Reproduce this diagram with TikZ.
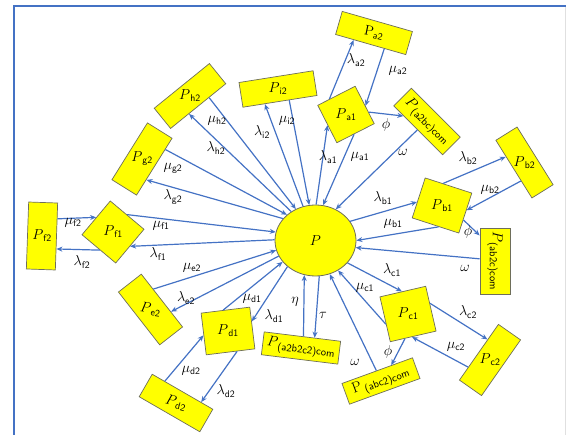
\documentclass[tikz,border=0pt]{standalone}
\usepackage{fontspec}
\usetikzlibrary{shapes.geometric,arrows.meta,calc}
\definecolor{ln}{RGB}{68,114,196}
\definecolor{yl}{RGB}{255,255,0}
\definecolor{bd}{RGB}{110,110,90}
\newcommand\Pb[1]{$P$\textsubscript{\sffamily #1}}
\newcommand\Gr[2]{$#1$\textsubscript{\sffamily #2}}
\tikzset{
  box/.style={draw=bd, fill=yl, line width=0.7pt, inner sep=0pt, rectangle},
  txt/.style={inner sep=0pt, font=\fontsize{14}{16}\selectfont},
  ctxt/.style={font=\fontsize{15}{17}\selectfont},
  lbl/.style={inner sep=0pt, font=\fontsize{14}{16}\selectfont},
  con/.style={draw=ln, line width=1.2pt, -{Stealth[length=6pt,width=5pt]}},
}
\begin{document}
\begin{tikzpicture}[x=1pt,y=-1pt]
\useasboundingbox (0,0) rectangle (566,435);
\begin{scope}
  \clip (0,0) rectangle (566,435);
  \draw[ln, line width=2pt] (14,6) rectangle (580,460);
  \draw[black!12, line width=0.6pt] (565,7) -- (565,435);
\end{scope}

% centre
\node[draw=bd, fill=yl, ellipse, minimum width=81pt, minimum height=71pt, inner sep=0pt, line width=0.8pt, font=\fontsize{14}{16}\selectfont] (P) at (315.5,240.5) {$P$};

% boxes
\node[box, minimum width=73pt, minimum height=24pt, rotate=-16] (a2) at (374,33) {};
\node[txt, rotate=-12] (ta2) at (a2) {{\rmfamily P}\textsubscript{\sffamily a2}};
\node[box, minimum width=42pt, minimum height=42pt, rotate=27] (a1) at (346,114.5) {};
\node[txt] (ta1) at (a1) {\Pb{a1}};
\node[box, ctxt, minimum width=69pt, minimum height=25pt, rotate=-45] (a2bc) at (427,121.5) {\Pb{(a2bc)com}};
\node[box, minimum width=49pt, minimum height=42pt, rotate=-18] (b1) at (442,205.5) {};
\node[txt] (tb1) at (b1) {\Pb{b1}};
\node[box, minimum width=68pt, minimum height=25pt, rotate=-58] (b2) at (524.5,162.5) {};
\node[txt] (tb2) at (b2) {\Pb{b2}};
\node[box, ctxt, minimum width=66pt, minimum height=30pt, rotate=-90] (ab2c) at (495,261) {\Pb{(ab2c)com}};
\node[box, minimum width=47pt, minimum height=46pt, rotate=13] (c1) at (408,314) {};
\node[txt] (tc1) at (c1) {\Pb{c1}};
\node[box, minimum width=68pt, minimum height=27pt, rotate=55] (c2) at (490,360) {};
\node[txt] (tc2) at (c2) {\Pb{c2}};
\node[box, ctxt, minimum width=75pt, minimum height=22pt, rotate=20] (abc2) at (381,381) {{\rmfamily P}\,\textsubscript{\sffamily (abc2)com}};
\node[box, ctxt, minimum width=77pt, minimum height=23pt, rotate=-7] (a2b2c2) at (301,348) {\Pb{(a2b2c2)com}};
\node[box, minimum width=49pt, minimum height=42pt, rotate=7] (d1) at (228,331) {};
\node[txt] (td1) at (d1) {\Pb{d1}};
\node[box, minimum width=70pt, minimum height=26pt, rotate=-30] (d2) at (176,403) {};
\node[txt, rotate=-15] (td2) at (d2) {\Pb{d2}};
\node[box, minimum width=67pt, minimum height=29pt, rotate=-52] (e2) at (150.5,309.5) {};
\node[txt, rotate=-8] (te2) at (e2) {\Pb{e2}};
\node[box, minimum width=44pt, minimum height=44pt, rotate=-40] (f1) at (113,232) {};
\node[txt] (tf1) at (f1) {\Pb{f1}};
\node[box, minimum width=29pt, minimum height=67pt, rotate=-2] (f2) at (42,236) {};
\node[txt] (tf2) at (f2) {\Pb{f2}};
\node[box, minimum width=67pt, minimum height=29pt, rotate=58] (g2) at (142,159) {};
\node[txt] (tg2) at (g2) {\Pb{g2}};
\node[box, minimum width=71pt, minimum height=26pt, rotate=39] (h2) at (190,96) {};
\node[txt] (th2) at (h2) {\Pb{h2}};
\node[box, minimum width=75pt, minimum height=25pt, rotate=9] (i2) at (278,89) {};
\node[txt] (ti2) at (i2) {\Pb{i2}};

% connectors
\draw[con] (a1.110.5) -- (a2.215);
\draw[con] (a2.-41) -- (a1.-3);
\draw[con] (a1.-21.5) -- (a2bc.212);
\draw[con] (a2bc.266) -- (P.57);
\draw[con] (P.89) -- (a1.183.4);
\draw[con] (a1.265) -- (P.78);
\draw[con] (P.110) -- (i2.-140.4);
\draw[con] (i2.-54) -- (P.100);
\draw[con] (P.130) -- (h2.-132);
\draw[con] (h2.-44.2) -- (P.122);
\draw[con] (P.146) -- (g2.-136);
\draw[con] (g2.-36.6) -- (P.138);
\draw[con] (f1.91.7) -- (P.168);
\draw[con] (P.179) -- (f1.0.5);
\draw[con] (f2.50.7) -- (f1.179.4);
\draw[con] (f1.-86.9) -- (f2.-40.4);
\draw[con] (e2.134.7) -- (P.-166);
\draw[con] (P.-157) -- (e2.46.2);
\draw[con] (d1.96.4) -- (P.-147);
\draw[con] (P.-137) -- (d1.15.2);
\draw[con] (d2.147.6) -- (d1.183);
\draw[con] (d1.-73.8) -- (d2.32.4);
\draw[con] (a2b2c2.85.7) -- (P.-108);
\draw[con] (P.-84) -- (a2b2c2.44.6);
\draw[con] (abc2.94.8) -- (P.-67);
\draw[con] (c1.192.6) -- (P.-53);
\draw[con] (P.-35) -- (c1.92);
\draw[con] (c1.-110) -- (abc2.37.7);
\draw[con] (c1.13.6) -- (c2.42.4);
\draw[con] (c2.143) -- (c1.-93.5);
\draw[con] (ab2c.262) -- (P.-10);
\draw[con] (b1.-81) -- (P.0);
\draw[con] (P.29) -- (b1.190.6);
\draw[con] (b1.-16.6) -- (ab2c.211.8);
\draw[con] (b1.105.6) -- (b2.221);
\draw[con] (b2.317.6) -- (b1.7);

% labels
\node[lbl] (la2) at (356,60) {\Gr{\lambda}{a2}};
\node[lbl] (ma2) at (398,71) {\Gr{\mu}{a2}};
\node[lbl] (pha) at (386,125) {$\phi$};
\node[lbl] (oma) at (403,152) {$\omega$};
\node[lbl] (la1) at (328,157) {\Gr{\lambda}{a1}};
\node[lbl] (ma1) at (360,157) {\Gr{\mu}{a1}};
\node[lbl] (lb2) at (468,158) {\Gr{\lambda}{b2}};
\node[lbl] (mb2) at (490,190) {\Gr{\mu}{b2}};
\node[lbl] (lb1) at (383,198) {\Gr{\lambda}{b1}};
\node[lbl] (mb1) at (393,224) {\Gr{\mu}{b1}};
\node[lbl] (phb) at (468,232) {$\phi$};
\node[lbl] (omb) at (465,268) {$\omega$};
\node[lbl] (lc1) at (392,270) {\Gr{\lambda}{c1}};
\node[lbl] (mc1) at (365,288) {\Gr{\mu}{c1}};
\node[lbl] (lc2) at (468,312) {\Gr{\lambda}{c2}};
\node[lbl] (mc2) at (456,347) {\Gr{\mu}{c2}};
\node[lbl] (phc) at (388,352) {$\phi$};
\node[lbl] (omc) at (355,362) {$\omega$};
\node[lbl] (eta) at (295,302) {$\eta$};
\node[lbl] (tau) at (323,315) {$\tau$};
\node[lbl] (ld1) at (274,316) {\Gr{\lambda}{d1}};
\node[lbl] (md1) at (252,299) {\Gr{\mu}{d1}};
\node[lbl] (md2) at (191,371) {\Gr{\mu}{d2}};
\node[lbl] (ld2) at (226,391) {\Gr{\lambda}{d2}};
\node[lbl] (me2) at (192,268) {\Gr{\mu}{e2}};
\node[lbl] (le2) at (186,298) {\Gr{\lambda}{e2}};
\node[lbl] (mf1) at (161,226) {\Gr{\mu}{f1}};
\node[lbl] (lf1) at (158,254) {\Gr{\lambda}{f1}};
\node[lbl] (mf2) at (73,223) {\Gr{\mu}{f2}};
\node[lbl] (lf2) at (82,262) {\Gr{\lambda}{f2}};
\node[lbl] (mg2) at (173,168) {\Gr{\mu}{g2}};
\node[lbl] (lg2) at (173,197) {\Gr{\lambda}{g2}};
\node[lbl] (mh2) at (217,121) {\Gr{\mu}{h2}};
\node[lbl] (lh2) at (216,148) {\Gr{\lambda}{h2}};
\node[lbl] (li2) at (262,132) {\Gr{\lambda}{i2}};
\node[lbl] (mi2) at (287,121) {\Gr{\mu}{i2}};
\end{tikzpicture}
\end{document}
